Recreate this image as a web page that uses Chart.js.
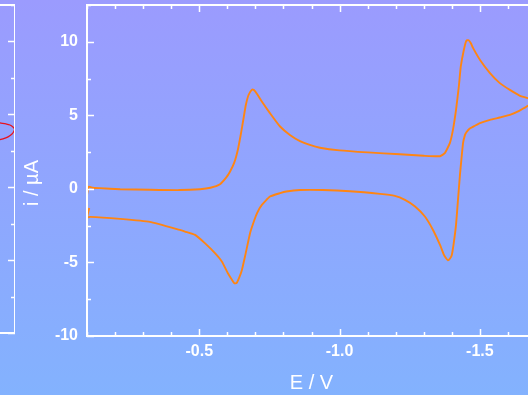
<!DOCTYPE html>
<html>
<head>
<meta charset="utf-8">
<script src="https://cdn.jsdelivr.net/npm/chart.js@4.4.1/dist/chart.umd.min.js"></script>
<style>
    html, body {
        margin: 0;
        padding: 0;
        width: 528px;
        height: 395px;
        overflow: hidden;
        background: linear-gradient(#9b9bfe, #83b2fe);
    }
    #wrap { position: relative; width: 528px; height: 395px; overflow: hidden; }
    #cv { position: absolute; left: 0; top: 0; }
    #side { position: absolute; left: -45px; top: 0; }
</style>
</head>
<body>
<div id="wrap">
    <canvas id="side" width="60" height="395"></canvas>
    <canvas id="cv" width="560" height="395"></canvas>
</div>
<script>
// Cyclic voltammogram, forward scan (toward negative potential)
const forwardE = [-0.100, -0.106, -0.120, -0.146, -0.218, -0.324, -0.431, -0.503, -0.540, -0.574,
    -0.595, -0.609, -0.625, -0.638, -0.648, -0.657, -0.666, -0.676, -0.688, -0.695,
    -0.706, -0.723, -0.752, -0.788, -0.823, -0.859, -0.894, -0.930, -1.000, -1.100,
    -1.215, -1.300, -1.358, -1.375, -1.393, -1.404, -1.415, -1.425, -1.432, -1.443,
    -1.452, -1.460, -1.468, -1.475, -1.500, -1.536, -1.571, -1.607, -1.643, -1.671, -1.700];
const forwardI = [-0.40, 0.15, 0.08, 0.05, -0.02, -0.06, -0.08, -0.02, 0.08, 0.32,
    0.75, 1.15, 1.80, 2.70, 3.70, 4.70, 5.70, 6.40, 6.75, 6.72,
    6.45, 5.94, 5.15, 4.24, 3.67, 3.25, 2.99, 2.80, 2.62, 2.48,
    2.35, 2.25, 2.22, 2.43, 3.11, 4.01, 5.37, 6.96, 8.32, 9.46,
    10.08, 10.10, 9.90, 9.60, 8.78, 7.87, 7.19, 6.73, 6.33, 6.17, 5.90];

// Return scan (back toward positive potential)
const reverseE = [-1.700, -1.671, -1.640, -1.607, -1.571, -1.536, -1.500, -1.482, -1.464, -1.452,
    -1.447, -1.440, -1.434, -1.429, -1.422, -1.415, -1.407, -1.400, -1.393, -1.386,
    -1.379, -1.372, -1.358, -1.333, -1.304, -1.269, -1.233, -1.197, -1.144, -1.037,
    -0.940, -0.859, -0.810, -0.788, -0.752, -0.723, -0.706, -0.693, -0.681, -0.663,
    -0.652, -0.642, -0.633, -0.625, -0.617, -0.602, -0.581, -0.556, -0.520, -0.485,
    -0.449, -0.431, -0.324, -0.218, -0.111, -0.100, -0.108];
const reverseI = [5.85, 5.65, 5.30, 5.03, 4.85, 4.69, 4.47, 4.29, 4.10, 3.85,
    3.67, 3.11, 1.97, 0.95, -0.75, -2.45, -3.67, -4.49, -4.75, -4.85,
    -4.70, -4.49, -3.81, -2.79, -1.88, -1.20, -0.75, -0.48, -0.34, -0.16,
    -0.08, -0.08, -0.18, -0.29, -0.52, -1.09, -1.65, -2.30, -3.01, -4.60,
    -5.51, -6.05, -6.40, -6.42, -6.19, -5.73, -4.95, -4.37, -3.69, -3.13,
    -2.90, -2.79, -2.24, -2.04, -1.90, -1.95, -1.30];

// Neighbouring panel trace (only its right edge shows)
const sideX = [0.333, 0.375, 0.425, 0.458, 0.483, 0.496, 0.492, 0.475, 0.442, 0.400, 0.333];
const sideI = [4.48, 4.41, 4.34, 4.27, 4.13, 4.00, 3.86, 3.65, 3.45, 3.31, 3.17];

const xTicks = [-0.5, -1.0, -1.5];
const yTicks = [-10, -5, 0, 5, 10];
const xMinorStep = 0.1;
const yMinorStep = 2.5;

const FONT = '"Liberation Sans", Arial, sans-serif';

const cvPoints = forwardE.map((e, k) => ({ x: e, y: forwardI[k] }))
    .concat(reverseE.map((e, k) => ({ x: e, y: reverseI[k] })));

// box + inward tick marks on all four sides
function drawFrame(chart, sides) {
    const { ctx, chartArea: a, scales: { x, y } } = chart;
    ctx.save();
    ctx.strokeStyle = '#ffffff';
    ctx.lineWidth = 1.5;
    ctx.beginPath();
    const xs = sides.xTicks ? minorValues(x.min, x.max, xMinorStep) : [];
    xs.forEach(v => {
        const px = Math.round(x.getPixelForValue(v)) + 0.5;
        const len = isMajor(v, 0.5) ? 7 : 4;
        ctx.moveTo(px, a.bottom); ctx.lineTo(px, a.bottom - len);
        ctx.moveTo(px, a.top); ctx.lineTo(px, a.top + len);
    });
    minorValues(y.min, y.max, yMinorStep).forEach(v => {
        const py = Math.round(y.getPixelForValue(v)) + 0.5;
        const len = isMajor(v, 5) ? 7 : 4;
        if (sides.left) { ctx.moveTo(a.left, py); ctx.lineTo(a.left + len, py); }
        if (sides.right) { ctx.moveTo(a.right, py); ctx.lineTo(a.right - len, py); }
    });
    ctx.stroke();
    ctx.lineWidth = 2;
    ctx.strokeRect(a.left, a.top, a.right - a.left, a.bottom - a.top);
    ctx.restore();
}

function minorValues(lo, hi, step) {
    const out = [];
    const start = Math.ceil(lo / step - 1e-6);
    const end = Math.floor(hi / step + 1e-6);
    for (let k = start; k <= end; k++) out.push(+(k * step).toFixed(4));
    return out;
}

function isMajor(v, step) {
    return Math.abs(v / step - Math.round(v / step)) < 1e-6;
}

function noEdgePadding(s) {
    s.paddingTop = 0;
    s.paddingBottom = 0;
    s.paddingLeft = 0;
    s.paddingRight = 0;
}

// Main voltammogram
const mainCanvas = document.getElementById('cv');
new Chart(mainCanvas.getContext('2d'), {
    type: 'scatter',
    data: {
        datasets: [{
            data: cvPoints,
            showLine: true,
            borderColor: '#ff8512',
            borderWidth: 1.9,
            pointRadius: 0,
            tension: 0.15,
            fill: false
        }]
    },
    options: {
        responsive: false,
        animation: false,
        layout: { padding: { left: 0, top: 5, right: 24, bottom: 0 } },
        plugins: {
            legend: { display: false },
            tooltip: { enabled: false }
        },
        scales: {
            x: {
                type: 'linear',
                reverse: true,
                min: -1.7,
                max: -0.1,
                grid: { display: false, drawTicks: false },
                border: { display: false },
                afterBuildTicks: (s) => { s.ticks = xTicks.map(v => ({ value: v })); },
                afterFit: (s) => { s.height = 59; noEdgePadding(s); },
                ticks: {
                    color: '#ffffff',
                    padding: 6,
                    font: { family: FONT, size: 16, weight: 'bold' },
                    callback: (v) => Number(v).toFixed(1)
                },
                title: {
                    display: true,
                    text: 'E / V',
                    color: '#ffffff',
                    padding: 0,
                    font: { family: FONT, size: 20 }
                }
            },
            y: {
                type: 'linear',
                min: -10,
                max: 12.5,
                grid: { display: false, drawTicks: false },
                border: { display: false },
                afterBuildTicks: (s) => { s.ticks = yTicks.map(v => ({ value: v })); },
                afterFit: (s) => { s.width = 87; noEdgePadding(s); },
                ticks: {
                    color: '#ffffff',
                    padding: 9,
                    font: { family: FONT, size: 16, weight: 'bold' },
                    callback: (v) => String(v)
                }
            }
        }
    },
    plugins: [{
        id: 'frame',
        afterDraw(chart) {
            drawFrame(chart, { left: true, right: true, xTicks: true });
            // rotated y-axis title
            const ctx = chart.ctx;
            ctx.save();
            ctx.translate(32, 183);
            ctx.rotate(-Math.PI / 2);
            ctx.font = '20px ' + FONT;
            ctx.fillStyle = '#ffffff';
            ctx.textAlign = 'center';
            ctx.textBaseline = 'middle';
            ctx.fillText('i / µA', 0, 0);
            ctx.restore();
        }
    }]
});

// Neighbouring panel, cut off at the left edge
const sideCanvas = document.getElementById('side');
new Chart(sideCanvas.getContext('2d'), {
    type: 'scatter',
    data: {
        datasets: [{
            data: sideX.map((v, k) => ({ x: v, y: sideI[k] })),
            showLine: true,
            borderColor: '#e8121c',
            borderWidth: 1.3,
            pointRadius: 0,
            tension: 0.3,
            fill: false
        }]
    },
    options: {
        responsive: false,
        animation: false,
        layout: { padding: { left: 0, top: 5, right: 0, bottom: 62 } },
        plugins: {
            legend: { display: false },
            tooltip: { enabled: false }
        },
        scales: {
            x: { type: 'linear', display: false, min: 0, max: 0.5 },
            y: { type: 'linear', display: false, min: -10, max: 12.5 }
        }
    },
    plugins: [{
        id: 'sideFrame',
        afterDraw(chart) {
            drawFrame(chart, { left: false, right: true, xTicks: false });
        }
    }]
});
</script>
</body>
</html>
